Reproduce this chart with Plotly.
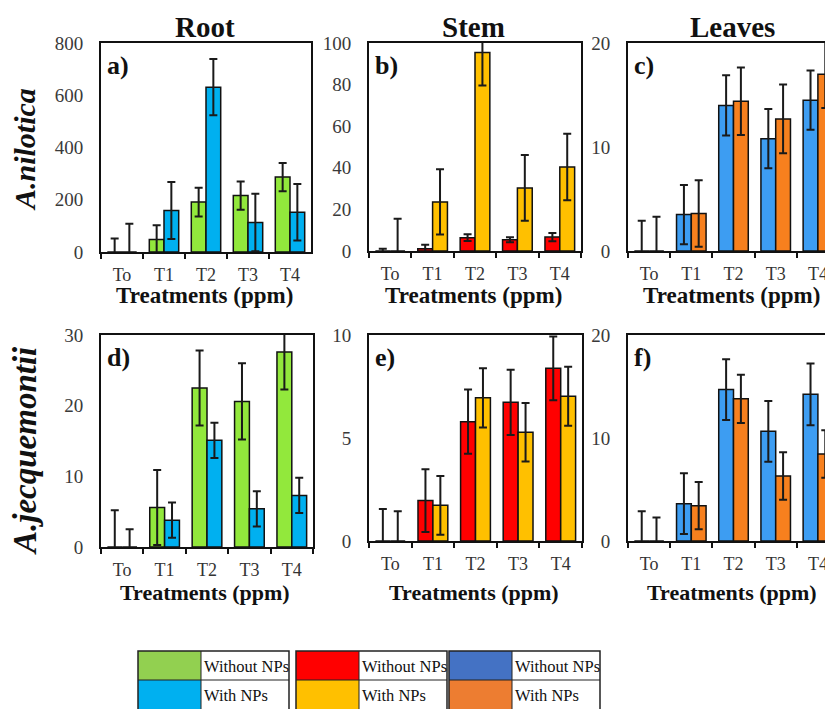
import plotly.graph_objects as go

# The page body has an 8px default margin, so the figure is drawn 8px in from the
# top-left corner; positions are given in reference-pixel units and shifted by it.
OFF = 8
W, H = 833 - OFF, 709 - OFF

categories = ["To", "T1", "T2", "T3", "T4"]

root_nil_without = [0, 48, 191, 216, 287]
root_nil_without_err = [52, 54, 55, 54, 54]
root_nil_with = [0, 159, 631, 113, 152]
root_nil_with_err = [108, 109, 108, 110, 108]

stem_nil_without = [0, 1.1, 6.4, 5.4, 6.7]
stem_nil_without_err = [1.1, 1.9, 1.6, 1.2, 2.0]
stem_nil_with = [0, 23.6, 95.4, 30.3, 40.4]
stem_nil_with_err = [15.5, 15.7, 15.8, 15.8, 16.0]

leaves_nil_without = [0, 3.5, 14.0, 10.8, 14.5]
leaves_nil_without_err = [2.9, 2.85, 2.9, 2.85, 2.85]
leaves_nil_with = [0, 3.6, 14.4, 12.7, 17.0]
leaves_nil_with_err = [3.3, 3.2, 3.25, 3.3, 3.25]

root_jac_without = [0, 5.6, 22.5, 20.6, 27.6]
root_jac_without_err = [5.2, 5.3, 5.3, 5.4, 5.3]
root_jac_with = [0, 3.8, 15.1, 5.4, 7.3]
root_jac_with_err = [2.5, 2.5, 2.5, 2.5, 2.5]

stem_jac_without = [0, 1.96, 5.79, 6.73, 8.38]
stem_jac_without_err = [1.55, 1.52, 1.56, 1.58, 1.55]
stem_jac_with = [0, 1.73, 6.95, 5.28, 7.03]
stem_jac_with_err = [1.45, 1.43, 1.44, 1.42, 1.43]

leaves_jac_without = [0, 3.62, 14.7, 10.65, 14.24]
leaves_jac_without_err = [2.9, 2.95, 2.95, 2.95, 3.0]
leaves_jac_with = [0, 3.43, 13.8, 6.31, 8.45]
leaves_jac_with_err = [2.27, 2.3, 2.35, 2.3, 2.3]

col_titles = ["Root", "Stem", "Leaves"]
row_titles = ["A.nilotica", "A.jecquemontii"]
panel_letters = ["a)", "b)", "c)", "d)", "e)", "f)"]
legend_labels = ["Without NPs", "With NPs"]
x_title = "Treatments (ppm)"

bar_colors = {
    "root": ("#92E83C", "#00B0F0"),
    "stem": ("#FF0000", "#FFC000"),
    "leaves": ("#3D9DF2", "#F7801E"),
}
legend_colors = [("#92D050", "#00B0F0"), ("#FF0000", "#FFC000"), ("#4472C4", "#ED7D31")]

SERIF = "Liberation Serif"


def fx(p):
    return (p - OFF) / W


def fy(p):
    return 1 - (p - OFF) / H


panels = [
    ("root", root_nil_without, root_nil_without_err, root_nil_with, root_nil_with_err,
     (101, 311), (43, 252), 800, 200, True),
    ("stem", stem_nil_without, stem_nil_without_err, stem_nil_with, stem_nil_with_err,
     (369, 581), (43, 251), 100, 20, True),
    ("leaves", leaves_nil_without, leaves_nil_without_err, leaves_nil_with, leaves_nil_with_err,
     (628, 839), (43, 251), 20, 10, False),
    ("root", root_jac_without, root_jac_without_err, root_jac_with, root_jac_with_err,
     (101, 313), (335, 547), 30, 10, True),
    ("stem", stem_jac_without, stem_jac_without_err, stem_jac_with, stem_jac_with_err,
     (369, 582), (335, 541), 10, 5, True),
    ("leaves", leaves_jac_without, leaves_jac_without_err, leaves_jac_with, leaves_jac_with_err,
     (628, 839), (335, 541), 20, 10, False),
]

fig = go.Figure()
layout = {}
annotations = []
shapes = []

for i, (key, wo, woe, wi, wie, xd, yd, ymax, dt, rb) in enumerate(panels):
    n = "" if i == 0 else str(i + 1)
    xa, ya = "x" + n, "y" + n
    c_wo, c_wi = bar_colors[key]
    x_right = min(xd[1], 833)
    cat_w = (xd[1] - xd[0]) / 5.0
    xmax = -0.5 + (x_right - xd[0]) / cat_w
    for vals, errs, col, name in ((wo, woe, c_wo, legend_labels[0]), (wi, wie, c_wi, legend_labels[1])):
        fig.add_trace(go.Bar(
            x=categories, y=vals, name=name, xaxis=xa, yaxis=ya, showlegend=False,
            marker=dict(color=col, line=dict(color="#111111", width=1.5)),
            error_y=dict(type="data", array=errs, visible=True, color="#1a1a1a",
                         thickness=2, width=4),
        ))
    layout["xaxis" + n] = dict(
        domain=[fx(xd[0]), min(1.0, fx(x_right))], anchor=ya, range=[-0.5, xmax],
        showline=True, linecolor="#111111", linewidth=2, mirror=True,
        ticks="outside", tickson="boundaries", ticklen=5, tickwidth=2, tickcolor="#111111",
        tickfont=dict(family=SERIF, size=18, color="#333333"), ticklabelstandoff=5,
        showgrid=False, zeroline=False, fixedrange=True, automargin=False,
    )
    layout["yaxis" + n] = dict(
        domain=[fy(yd[1]), fy(yd[0])], anchor=xa, range=[0, ymax], dtick=dt,
        showline=True, linecolor="#111111", linewidth=2, mirror=rb,
        ticks="", tickfont=dict(family=SERIF, size=19, color="#3a3a3a"),
        ticklabelstandoff=12, showgrid=False, zeroline=False, fixedrange=True,
        automargin=False,
    )
    annotations.append(dict(
        text="<b>%s</b>" % panel_letters[i], xref="paper", yref="paper",
        x=fx(xd[0] + 4), y=fy(yd[0] + 6), xanchor="left", yanchor="top",
        showarrow=False, font=dict(family=SERIF, size=26, color="#111111"),
    ))
    row = i // 3
    ty = [295, 592][row]
    annotations.append(dict(
        text="<b>%s</b>" % x_title, xref="paper", yref="paper",
        x=fx((xd[0] + xd[1]) / 2 - 2), y=fy(ty), xanchor="center", yanchor="middle",
        showarrow=False, font=dict(family=SERIF, size=[23, 22][row], color="#111111"),
    ))

for t, cx in zip(col_titles, [205, 473, 732]):
    annotations.append(dict(
        text="<b>%s</b>" % t, xref="paper", yref="paper", x=fx(cx), y=fy(27),
        xanchor="center", yanchor="middle", showarrow=False,
        font=dict(family=SERIF, size=29, color="#111111"),
    ))

for t, cy, sz in zip(row_titles, [150, 451], [30, 33]):
    annotations.append(dict(
        text="<b><i>%s</i></b>" % t, xref="paper", yref="paper", x=fx(25), y=fy(cy),
        xanchor="center", yanchor="middle", textangle=-90, showarrow=False,
        font=dict(family=SERIF, size=sz, color="#111111"),
    ))

for (c1, c2), x0 in zip(legend_colors, [138, 296, 449]):
    xc, x1 = x0 + 63, x0 + 151
    top, mid, bot = 651, 680, 715
    shapes.append(dict(type="rect", xref="paper", yref="paper", x0=fx(x0), x1=fx(xc),
                       y0=fy(mid), y1=fy(top), fillcolor=c1, line=dict(width=0)))
    shapes.append(dict(type="rect", xref="paper", yref="paper", x0=fx(x0), x1=fx(xc),
                       y0=fy(bot), y1=fy(mid), fillcolor=c2, line=dict(width=0)))
    shapes.append(dict(type="rect", xref="paper", yref="paper", x0=fx(x0), x1=fx(x1),
                       y0=fy(bot), y1=fy(top), line=dict(color="#222222", width=1.5)))
    shapes.append(dict(type="line", xref="paper", yref="paper", x0=fx(x0), x1=fx(x1),
                       y0=fy(mid), y1=fy(mid), line=dict(color="#222222", width=1)))
    shapes.append(dict(type="line", xref="paper", yref="paper", x0=fx(xc), x1=fx(xc),
                       y0=fy(bot), y1=fy(top), line=dict(color="#222222", width=1)))
    for lab, cy in zip(legend_labels, [666, 695]):
        annotations.append(dict(
            text=lab, xref="paper", yref="paper", x=fx(xc + 1), y=fy(cy),
            xanchor="left", yanchor="middle", showarrow=False,
            font=dict(family=SERIF, size=16.5, color="#111111"),
        ))

fig.update_layout(
    width=W, height=H, margin=dict(l=0, r=0, t=0, b=0, autoexpand=False),
    paper_bgcolor="white", plot_bgcolor="white",
    barmode="group", bargap=0.3, bargroupgap=0,
    annotations=annotations, shapes=shapes, **layout,
)

fig.write_html("out.html")
